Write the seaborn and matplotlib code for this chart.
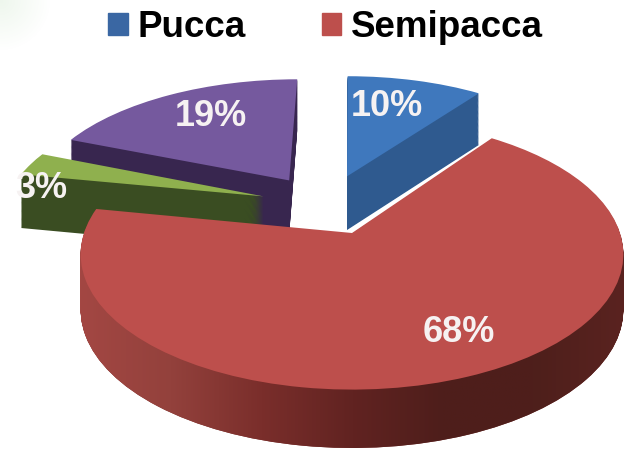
import numpy as np
import matplotlib
matplotlib.use("Agg")
import matplotlib.pyplot as plt
from matplotlib.patches import Patch
from matplotlib.path import Path
from matplotlib.transforms import Transform, Affine2D
import seaborn as sns

categories = ["Pucca", "Semipacca", "Other", "Kutcha"]
values = [10, 68, 3, 19]
top_colors = ["#3f78bd", "#bd4f4c", "#8fb04e", "#75599e"]
rim_colors = ["#2f5a8f", "#7a2e2b", "#3a4d22", "#38264f"]
label_pos = [(387, 107), (459, 332), (41, 189), (211, 117)]
offsets = [(-0.02, 0.46), (0.0, 0.0), (-0.345, 0.29), (-0.25, 0.425)]
draw_order = [3, 2, 0, 1]
legend_labels = ["Pucca", "Semipacca"]
rim_stops = ["#a34743", "#93413c", "#7a2e2b", "#612321", "#4e1e1b", "#4e1f1b", "#5a2320"]

sns.set_theme(style="white")
plt.rcParams["font.family"] = ["Liberation Sans", "DejaVu Sans"]

CX, AY, RX, KY, P, DEPTH = 352.0, 233.0, 268.0, 132.0, 0.157, 55.0
LAYERS = 60


class Persp(Transform):
    input_dims = 2
    output_dims = 2
    is_separable = False
    has_inverse = False

    def __init__(self, z=0.0):
        super().__init__()
        self.z = z

    def transform_non_affine(self, v):
        v = np.asarray(v, float)
        w = 1 + P * v[:, 1]
        X = CX + RX * v[:, 0] / w
        Y = AY - KY * v[:, 1] / w + DEPTH * self.z / w ** 0.35
        return np.column_stack([X, Y])


fig = plt.figure(figsize=(6.35, 4.5), dpi=100)
ax = fig.add_axes([0, 0, 1, 1])


def layer(z, colors, base_z):
    wedges, _ = ax.pie(values, colors=colors, startangle=90, counterclock=False,
                       wedgeprops={"linewidth": 0})
    for i, wd in enumerate(wedges):
        wd.set_transform(Affine2D().translate(*offsets[i]) + Persp(z) + ax.transData)
        wd.set_zorder(base_z + draw_order.index(i) * 10)
    return wedges


red_paths = []
for n in range(LAYERS, 0, -1):
    z = n / LAYERS
    wedges = layer(z, rim_colors, 1 + (LAYERS - n) * 0.01)
    red_paths.append(Persp(z).transform_path(wedges[1].get_path()))
top = layer(0.0, top_colors, 5)

grad = np.linspace(0, 1, 256).reshape(1, -1)
cmap = sns.blend_palette(rim_stops, as_cmap=True)
im = ax.imshow(grad, cmap=cmap, extent=(80, 625, 455, 225), aspect="auto", zorder=34)
im.set_clip_path(Path.make_compound_path(*red_paths), transform=ax.transData)
top[1].set_zorder(36)

# faint pale-green smudge in the top-left corner of the scan
yy, xx = np.mgrid[0:50, 0:50]
smudge = np.clip(1 - np.hypot(xx, yy) / 50, 0, 1) * 0.45
rgba = np.zeros((50, 50, 4))
rgba[..., :3] = matplotlib.colors.to_rgb("#d9ecd6")
rgba[..., 3] = smudge
ax.imshow(rgba, extent=(0, 50, 50, 0), aspect="auto", zorder=0.5)

for val, (x, y) in zip(values, label_pos):
    ax.text(x, y, f"{val}%", color="#f6f2f2", fontsize=26, fontweight="bold",
            ha="center", va="center", zorder=40)

handles = [Patch(color="#3a67a3"), Patch(color="#bd4f4c")]
ax.legend(handles, legend_labels, ncol=2, loc="upper left", bbox_to_anchor=(108, 10),
          bbox_transform=ax.transData, frameon=False,
          prop={"weight": "bold", "size": 26.5}, handlelength=0.53, handleheight=0.53,
          handletextpad=0.28, columnspacing=2.05, borderaxespad=0, borderpad=0,
          labelcolor="black")

ax.set_aspect("auto")
ax.set_xlim(0, 635)
ax.set_ylim(450, 0)
ax.set_axis_off()
fig.savefig("out.png", dpi=100, facecolor="white")
